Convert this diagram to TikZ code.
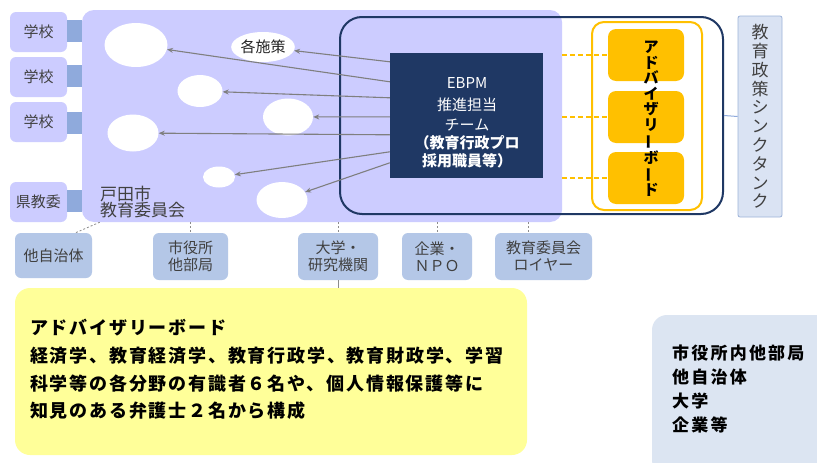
\documentclass[tikz,border=0pt]{standalone}
\usepackage{fontspec}
\setmainfont{Noto Sans CJK JP}
\newfontfamily\yfont[LetterSpace=10]{Noto Sans CJK JP}
\newfontfamily\bfontx[LetterSpace=13]{Noto Sans CJK JP}
\usetikzlibrary{arrows.meta,calc,shapes.geometric}
\definecolor{lav}{HTML}{CCCCFF}
\definecolor{linkblue}{HTML}{8FAADC}
\definecolor{boxblue}{HTML}{B4C7E7}
\definecolor{navy}{HTML}{1F3864}
\definecolor{orng}{HTML}{FFC000}
\definecolor{ttfill}{HTML}{DAE3F3}
\definecolor{ttline}{HTML}{9DB3D9}
\definecolor{yel}{HTML}{FFFF99}
\definecolor{lbfill}{HTML}{DCE5F2}
\definecolor{agray}{HTML}{7F7F7F}
\definecolor{tgray}{HTML}{404040}
\definecolor{dgray}{HTML}{8C8C8C}
\begin{document}
\begin{tikzpicture}[x=1pt,y=-1pt,
  lavbox/.style={fill=lav, rounded corners=6pt, inner sep=0pt, text=tgray, font=\fontsize{15}{16}\selectfont},
  linkbox/.style={fill=linkblue, inner sep=0pt, minimum width=15pt, minimum height=22pt},
  ell/.style={ellipse, fill=white, inner sep=0pt},
  arr/.style={draw=agray, line width=1.1pt, -{Stealth[length=6pt,width=5pt]}},
  obox/.style={fill=orng, rounded corners=8pt, inner sep=0pt, minimum width=76pt, minimum height=52pt},
  odash/.style={draw=orng, line width=2.6pt, dash pattern=on 5pt off 3pt},
  bbox/.style={fill=boxblue, rounded corners=6pt, inner sep=0pt, text=tgray, align=center, font=\fontsize{15}{17}\selectfont},
  dline/.style={draw=dgray, line width=0.8pt, dash pattern=on 2pt off 2pt}
]
\clip (0,0) rectangle (817,463);
\fill[white] (0,0) rectangle (817,463);

% main board of education box
\node[fill=lav, rounded corners=12pt, inner sep=0pt, minimum width=480pt, minimum height=212pt] (tdm) at (322,116) {};
\node[anchor=south west, inner sep=0pt, align=left, text=tgray, font=\fontsize{17}{16}\selectfont] (tdtext) at (100,218) {戸田市\\教育委員会};

% left boxes
\node[lavbox, minimum width=57pt, minimum height=40pt] (sch1) at (38.5,32) {学校};
\node[lavbox, minimum width=57pt, minimum height=40pt] (sch2) at (38.5,77) {学校};
\node[lavbox, minimum width=57pt, minimum height=40pt] (sch3) at (38.5,122) {学校};
\node[lavbox, minimum width=57pt, minimum height=40pt] (ken) at (38.5,202) {県教委};
\node[linkbox] (lk1) at (74.5,31) {};
\node[linkbox] (lk2) at (74.5,76) {};
\node[linkbox] (lk3) at (74.5,123) {};
\node[linkbox] (lk4) at (74.5,201) {};

% ellipses
\node[ell, minimum width=63pt, minimum height=44pt] (e1) at (136,45) {};
\node[ell, minimum width=57pt, minimum height=30pt, text=black!85, font=\fontsize{15}{16}\selectfont] (sak) at (263,47) {各施策};
\node[ell, minimum width=45pt, minimum height=32pt] (e3) at (200,91) {};
\node[ell, minimum width=50pt, minimum height=37pt] (e4) at (288,117) {};
\node[ell, minimum width=51pt, minimum height=37pt] (e5) at (133,133) {};
\node[ell, minimum width=32pt, minimum height=21pt] (e6) at (219,177) {};
\node[ell, minimum width=51pt, minimum height=36pt] (e7) at (282,200) {};

% navy outline
\node[draw=navy, line width=2pt, rounded corners=22pt, inner sep=0pt, minimum width=383pt, minimum height=197pt] (navyb) at (531.5,115.5) {};

% advisory board
\node[draw=orng, fill=white, line width=2pt, rounded corners=12pt, inner sep=0pt, minimum width=110pt, minimum height=188pt] (adv) at (647,116) {};
\node[obox] (ob1) at (646,55) {};
\node[obox] (ob2) at (646,117) {};
\node[obox] (ob3) at (646,178) {};
\node[inner sep=0pt, align=center, text=black, font=\fontsize{15}{15.5}\selectfont\bfseries] (advtext) at (651,119)
  {ア\\ド\\バ\\イ\\ザ\\リ\\\rotatebox[origin=c]{90}{ー}\\ボ\\\rotatebox[origin=c]{90}{ー}\\ド};

% think tank
\node[fill=ttfill, draw=ttline, line width=0.8pt, rounded corners=2pt, inner sep=0pt, minimum width=44pt, minimum height=201pt] (tt) at (760,116.5) {};
\node[inner sep=0pt, align=center, text=tgray, font=\fontsize{17}{18.8}\selectfont] (tttext) at (760,116.5)
  {教\\育\\政\\策\\シ\\ン\\ク\\タ\\ン\\ク};
\draw[draw=linkblue, line width=1pt] (navyb.east) -- (tt.west);

% EBPM team
\node[fill=navy, inner sep=0pt, minimum width=153pt, minimum height=125pt] (ebpm) at (466.5,115.5) {};
\node[inner sep=0pt, align=center, text=white, font=\fontsize{15}{18}\selectfont] (ebpmtext) at (467,123)
  {EBPM\\[4pt]推進担当\\[2pt]チーム\\{\bfseries （教育行政プロ}\\{\bfseries 採用職員等）}};

% arrows
\draw[arr] ([yshift=-9pt]ebpm.north west) -- (sak);
\draw[arr] ([yshift=-29pt]ebpm.north west) -- (e1);
\draw[arr] ([yshift=-45pt]ebpm.north west) -- (e3);
\draw[arr] ([yshift=-64pt]ebpm.north west) -- (e4);
\draw[arr] ([yshift=-82pt]ebpm.north west) -- (e5);
\draw[arr] ([yshift=-99pt]ebpm.north west) -- (e6);
\draw[arr] ([yshift=-110pt]ebpm.north west) -- (e7);

% orange dashed links
\coordinate (ds1) at (562,55);
\coordinate (ds2) at (562,117);
\coordinate (ds3) at (562,178);
\draw[odash] (ds1) -- (ob1.west);
\draw[odash] (ds2) -- (ob2.west);
\draw[odash] (ds3) -- (ob3.west);

% bottom boxes
\node[bbox, minimum width=77pt, minimum height=45pt] (b1) at (53.5,255.5) {他自治体};
\node[bbox, minimum width=75pt, minimum height=47pt] (b2) at (190.5,256.5) {市役所\\他部局};
\node[bbox, minimum width=80pt, minimum height=47pt] (b3) at (338,256.5) {大学・\\研究機関};
\node[bbox, minimum width=70pt, minimum height=47pt] (b4) at (437,256.5) {企業・\\ＮＰＯ};
\node[bbox, minimum width=97pt, minimum height=47pt] (b5) at (543.5,256.5) {教育委員会\\ロイヤー};

\draw[dline] ([xshift=18pt]tdm.south west) -- ([xshift=22pt]b1.north);
\draw[dline] (b2.north |- tdm.south) -- (b2.north);
\draw[dline] (b3.north |- tdm.south) -- (b3.north);
\draw[dline] (b4.north |- tdm.south) -- (b4.north);
\draw[dline] ([xshift=-15pt]b5.north |- tdm.south) -- ([xshift=-15pt]b5.north);

% yellow box
\node[fill=yel, rounded corners=15pt, inner sep=0pt, minimum width=512pt, minimum height=167pt] (ybox) at (271,371.5) {};
\draw[draw=dgray, line width=0.6pt] (b3.south) -- (b3.south |- ybox.north);
\node[anchor=west, inner sep=0pt, align=left, text=black, font=\yfont\fontsize{18}{27.6}\selectfont\bfseries] (ytext) at (30,369.5)
  {アドバイザリーボード\\経済学、教育経済学、教育行政学、教育財政学、学習\\科学等の各分野の有識者６名や、個人情報保護等に\\知見のある弁護士２名から構成};

% light blue box
\node[fill=lbfill, rounded corners=15pt, inner sep=0pt, minimum width=180pt, minimum height=160pt] (lb) at (742,395) {};
\node[anchor=west, inner sep=0pt, align=left, text=black, font=\bfontx\fontsize{17}{24}\selectfont\bfseries] (lbtext) at (672,389.5)
  {市役所内他部局\\他自治体\\大学\\企業等};
\end{tikzpicture}
\end{document}
